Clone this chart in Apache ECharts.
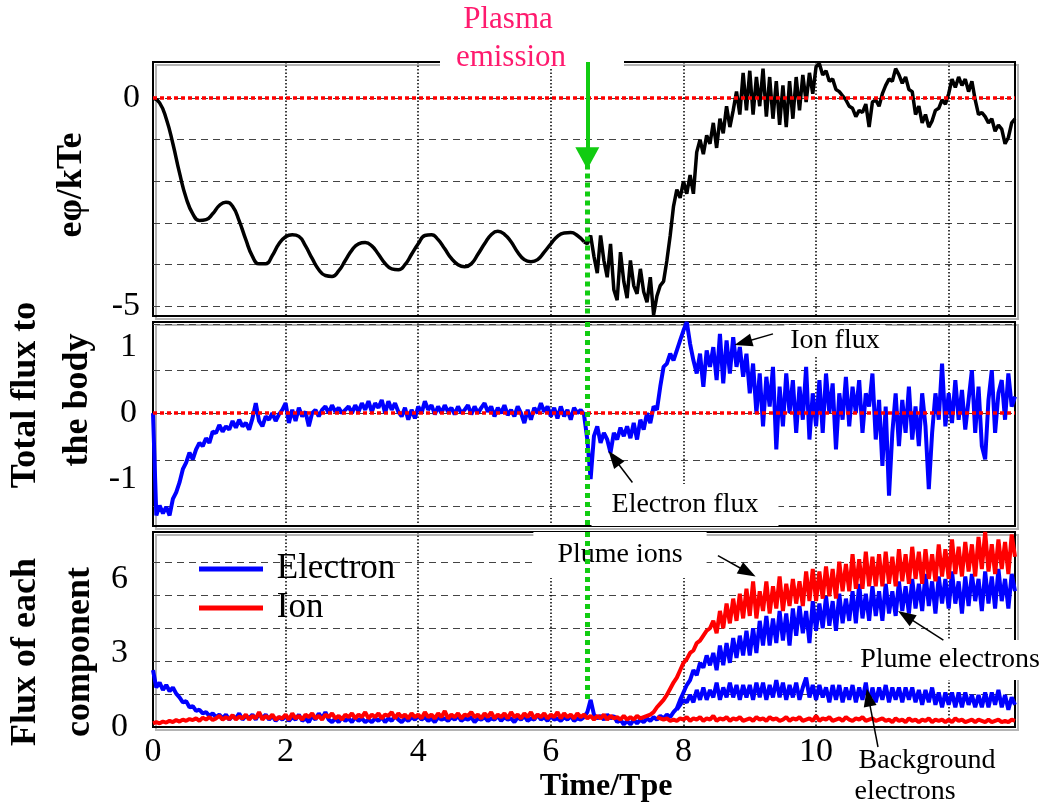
<!DOCTYPE html>
<html>
<head>
<meta charset="utf-8">
<script src="https://cdn.jsdelivr.net/npm/echarts@6/dist/echarts.min.js"></script>
<style>
html, body { margin: 0; padding: 0; background: #fff; }
#main { width: 1055px; height: 808px; }
</style>
</head>
<body>
<div id="main"></div>
<script>
(function () {
    var SERIF = "'Liberation Serif', 'Times New Roman', serif";

    // time axis
    var timeMin = 0, timeMax = 13, timeStep = 2;
    var emissionTime = 6.55;

    // tick / grid values of each panel
    var potGrid = [0, -1, -2, -3, -4, -5];
    var potLabels = [0, -5];
    var fluxGrid = [1.35, 0.65, 0, -0.71, -1.41];
    var fluxLabels = [1, 0, -1];
    var compGrid = [1.34, 2.67, 4.0, 5.34, 6.68];
    var compLabels = [0, 3, 6];

    // potential eφ/kTe, smooth part t = 0 .. 6.5 step 0.1
    var potSmooth = [0, -0.12, -0.5, -1.1, -1.8, -2.4, -2.78, -2.94, -2.92, -2.78,
        -2.58, -2.5, -2.6, -2.95, -3.4, -3.8, -3.98, -3.98, -3.78, -3.5,
        -3.33, -3.28, -3.32, -3.55, -3.85, -4.12, -4.26, -4.28, -4.15, -3.9,
        -3.65, -3.5, -3.47, -3.55, -3.75, -3.97, -4.1, -4.12, -4.0, -3.75,
        -3.5, -3.3, -3.28, -3.4, -3.62, -3.85, -4.0, -4.05, -3.98, -3.75,
        -3.5, -3.28, -3.2, -3.27, -3.45, -3.7, -3.88, -3.93, -3.88, -3.7,
        -3.5, -3.32, -3.24, -3.23, -3.3, -3.45];
    // potential after emission, t = 6.5 .. 13 step 0.05
    var potNoisy = [-3.45, -3.5, -3.3, -3.8, -4.2, -3.3, -3.9, -4.3, -3.5, -4.6,
        -4.85, -3.7, -4.4, -4.8, -3.9, -4.5, -4.7, -4.1, -4.65, -4.9,
        -4.3, -5.2, -4.75, -4.5, -4.4, -3.9, -3.3, -2.6, -2.2, -2.4,
        -2.0, -2.3, -1.85, -2.3, -1.3, -1.0, -1.35, -0.9, -1.1, -0.6,
        -1.2, -0.5, -0.85, -0.2, -0.7, -0.3, 0.15, -0.4, 0.6, -0.3,
        0.65, -0.4, 0.5, -0.2, 0.7, -0.45, 0.5, -0.5, 0.4, -0.65,
        0.3, -0.7, 0.4, -0.5, 0.5, -0.3, 0.55, -0.1, 0.6, 0.1,
        0.75, 0.82, 0.55, 0.65, 0.4, 0.45, 0.2, 0.15, 0.05, -0.05,
        -0.2, -0.25, -0.45, -0.3, -0.35, -0.15, -0.7, -0.1, -0.05, -0.2,
        0.1, 0.3, 0.45, 0.4, 0.7, 0.55, 0.35, 0.5, 0.2, 0.15,
        -0.4, -0.2, -0.6, -0.4, -0.7, -0.55, -0.3, -0.25, -0.05, -0.15,
        0.1, 0.45, 0.25, 0.5, 0.3, 0.45, 0.15, 0.4, -0.05, -0.4,
        -0.35, -0.45, -0.6, -0.5, -0.8, -0.65, -0.75, -1.1, -0.95, -0.6,
        -0.5];

    // total flux to the body, t = 0 .. 13 step 0.05
    var totalFlux = [
        0.0, -1.55, -1.4, -1.52, -1.42, -1.55, -1.3, -1.2, -1.05, -0.85, -0.75, -0.6, -0.7, -0.55, -0.45, -0.5, -0.38, -0.45, -0.28, -0.3,
        -0.18, -0.28, -0.2, -0.25, -0.12, -0.22, -0.1, -0.2, -0.15, -0.25, -0.08, 0.15, -0.12, -0.2, -0.05, -0.1, 0.0, -0.12, -0.02, 0.05,
        0.15, -0.15, 0.05, -0.12, 0.08, -0.05, 0.02, -0.2, 0.0, 0.05, -0.05, 0.05, 0.1, 0.0, 0.12, 0.02, 0.08, 0.0, 0.05, 0.1,
        0.0, 0.12, 0.02, 0.15, 0.05, 0.18, 0.02, 0.15, 0.08, 0.2, 0.0, 0.18, 0.05, 0.15, 0.02, -0.05, 0.08, -0.1, 0.05, -0.08,
        0.1, 0.0, 0.18, 0.05, 0.12, -0.02, 0.1, 0.0, 0.12, 0.02, 0.08, -0.02, 0.1, 0.0, 0.05, 0.12, -0.02, 0.1, 0.0, 0.08,
        0.15, 0.02, 0.1, -0.05, 0.08, 0.0, 0.12, -0.03, 0.05, -0.05, 0.1, 0.0, -0.15, 0.05, -0.1, 0.08, 0.0, 0.15, 0.02, 0.1,
        -0.05, 0.08, -0.08, 0.1, -0.05, 0.05, -0.1, 0.08, 0.0, 0.05, -0.02, -0.4, -1.0, -0.35, -0.2, -0.45, -0.3, -0.4, -0.6, -0.3,
        -0.4, -0.22, -0.35, -0.2, -0.38, -0.15, -0.4, -0.1, -0.25, 0.0, -0.15, 0.1, 0.05, 0.4, 0.7, 0.75, 0.9, 0.8, 0.95, 1.1,
        1.25, 1.38, 1.05, 0.8, 0.6, 0.9, 0.4, 0.95, 0.7, 1.0, 0.5, 1.2, 0.45, 1.1, 0.6, 1.15, 0.7, 1.0, 0.55, 0.9,
        0.3, 0.75, 0.0, 0.6, -0.2, 0.55, 0.1, 0.7, -0.55, 0.4, -0.2, 0.6, 0.0, 0.5, -0.3, 0.4, -0.1, 0.7, -0.4, 0.3,
        -0.2, 0.5, -0.3, 0.6, 0.0, 0.45, -0.55, 0.3, -0.1, 0.55, -0.2, 0.4, 0.0, 0.5, -0.3, 0.3, 0.1, 0.6, -0.4, 0.2,
        -0.8, 0.1, -1.25, -0.3, 0.3, -0.5, 0.2, -0.3, 0.4, -0.4, 0.1, -0.5, 0.3, -0.2, -1.15, -0.3, 0.3, -0.1, 0.75, -0.2,
        0.3, -0.15, 0.5, -0.1, 0.35, -0.25, 0.2, 0.65, -0.3, 0.4, -0.5, -0.7, 0.2, 0.65, -0.3, 0.3, 0.5, -0.1, 0.6, 0.1,
        0.25];

    // electron flux (background then plume electrons), t = 0 .. 13 step 0.05
    var electronMain = [
        2.3, 1.6, 1.8, 1.5, 1.7, 1.45, 1.6, 1.35, 1.2, 1.0, 1.05, 0.8, 0.85, 0.65, 0.7, 0.55, 0.6, 0.45, 0.55, 0.4,
        0.5, 0.35, 0.5, 0.3, 0.45, 0.35, 0.55, 0.3, 0.45, 0.35, 0.5, 0.3, 0.55, 0.35, 0.5, 0.3, 0.45, 0.25, 0.4, 0.3,
        0.45, 0.25, 0.4, 0.3, 0.5, 0.25, 0.35, 0.2, 0.45, 0.3, 0.55, 0.35, 0.6, 0.3, 0.2, 0.35, 0.2, 0.4, 0.25, 0.35,
        0.2, 0.4, 0.25, 0.35, 0.2, 0.3, 0.2, 0.35, 0.25, 0.4, 0.2, 0.35, 0.25, 0.45, 0.3, 0.2, 0.35, 0.25, 0.4, 0.3,
        0.45, 0.3, 0.4, 0.25, 0.35, 0.2, 0.4, 0.3, 0.35, 0.25, 0.4, 0.3, 0.45, 0.25, 0.35, 0.3, 0.4, 0.2, 0.35, 0.3,
        0.4, 0.25, 0.35, 0.3, 0.45, 0.25, 0.4, 0.3, 0.35, 0.2, 0.4, 0.3, 0.45, 0.25, 0.35, 0.3, 0.5, 0.3, 0.4, 0.25,
        0.45, 0.3, 0.35, 0.25, 0.4, 0.3, 0.45, 0.25, 0.35, 0.3, 0.4, 0.6, 1.1, 0.5, 0.35, 0.45, 0.3, 0.5, 0.35, 0.45,
        0.2, 0.3, 0.1, 0.25, 0.1, 0.3, 0.15, 0.3, 0.2, 0.35, 0.25, 0.4, 0.3, 0.45, 0.35, 0.5, 0.4, 0.6, 0.75, 1.1,
        1.4, 1.7, 1.9, 2.3, 2.1, 2.6, 2.4, 2.9, 2.5, 3.0, 2.3, 3.3, 2.5, 3.4, 2.6, 3.6, 2.8, 3.7, 2.9, 3.9,
        2.9, 4.0, 3.0, 4.3, 3.3, 4.5, 3.3, 4.4, 3.4, 4.7, 3.5, 4.6, 3.3, 4.8, 3.7, 4.9, 3.8, 4.7, 3.4, 5.1,
        3.9, 5.0, 4.0, 5.3, 4.1, 5.1, 3.9, 5.4, 4.2, 5.2, 4.3, 5.5, 4.2, 5.8, 4.4, 5.4, 4.3, 5.7, 4.5, 5.5,
        4.3, 5.8, 4.6, 5.5, 4.5, 5.9, 4.7, 5.7, 4.6, 6.0, 4.8, 5.8, 4.7, 6.2, 4.9, 5.9, 4.6, 6.1, 5.0, 6.0,
        4.8, 6.3, 5.0, 5.9, 4.6, 6.1, 4.9, 6.2, 5.1, 6.0, 4.7, 6.3, 5.0, 6.1, 4.8, 6.4, 5.1, 6.0, 4.8, 6.2,
        5.5];

    // ion flux (background then plume ions), t = 0 .. 13 step 0.05
    var ionMain = [
        0.15, 0.2, 0.15, 0.22, 0.18, 0.25, 0.2, 0.28, 0.22, 0.3, 0.25, 0.32, 0.28, 0.35, 0.25, 0.38, 0.3, 0.4, 0.28, 0.35,
        0.45, 0.3, 0.4, 0.32, 0.48, 0.3, 0.42, 0.35, 0.5, 0.3, 0.45, 0.35, 0.6, 0.3, 0.45, 0.35, 0.5, 0.3, 0.4, 0.35,
        0.5, 0.3, 0.55, 0.35, 0.45, 0.3, 0.5, 0.4, 0.55, 0.35, 0.45, 0.3, 0.5, 0.4, 0.55, 0.35, 0.45, 0.3, 0.5, 0.4,
        0.55, 0.35, 0.5, 0.4, 0.6, 0.35, 0.5, 0.4, 0.55, 0.35, 0.5, 0.45, 0.6, 0.35, 0.55, 0.4, 0.5, 0.35, 0.55, 0.4,
        0.5, 0.35, 0.6, 0.4, 0.5, 0.35, 0.55, 0.4, 0.65, 0.35, 0.5, 0.4, 0.55, 0.35, 0.5, 0.45, 0.6, 0.4, 0.5, 0.35,
        0.55, 0.4, 0.6, 0.35, 0.5, 0.4, 0.55, 0.35, 0.6, 0.4, 0.5, 0.35, 0.55, 0.4, 0.6, 0.35, 0.5, 0.4, 0.55, 0.35,
        0.5, 0.4, 0.6, 0.35, 0.55, 0.4, 0.5, 0.35, 0.55, 0.4, 0.5, 0.35, 0.45, 0.3, 0.45, 0.35, 0.5, 0.3, 0.45, 0.35,
        0.4, 0.3, 0.45, 0.3, 0.4, 0.3, 0.45, 0.35, 0.4, 0.45, 0.5, 0.6, 0.8, 0.95, 1.1, 1.3, 1.55, 1.8, 2.0, 2.3,
        2.6, 2.75, 3.0, 3.1, 3.4, 3.5, 3.7, 3.9, 4.0, 4.3, 3.8, 4.7, 4.0, 5.0, 4.2, 5.2, 4.3, 5.4, 4.4, 5.6,
        4.5, 5.9, 4.4, 5.5, 4.7, 5.9, 4.6, 5.7, 4.8, 6.1, 4.7, 5.8, 4.9, 6.0, 5.0, 5.9, 4.9, 6.3, 5.1, 6.4,
        5.1, 6.3, 5.2, 6.5, 5.3, 6.4, 5.2, 6.7, 5.5, 6.6, 5.5, 7.0, 5.6, 6.8, 5.6, 7.1, 5.7, 6.9, 5.7, 7.0,
        5.7, 7.1, 5.8, 6.9, 5.7, 7.2, 5.9, 7.0, 5.8, 7.3, 6.0, 7.1, 5.8, 7.2, 6.0, 7.0, 5.9, 7.4, 6.1, 7.2,
        6.0, 7.6, 6.2, 7.3, 6.1, 7.5, 6.3, 7.4, 6.1, 7.7, 6.4, 7.9, 6.3, 7.4, 6.2, 7.6, 6.4, 7.5, 6.2, 7.8,
        6.9];

    // background electrons, t = 7.9 .. 13 step 0.05
    var electronBg = [0.7, 0.9,
        1.1, 1.0, 1.3, 1.0, 1.5, 1.1, 1.6, 1.1, 1.5, 1.2, 1.8, 1.1, 1.6, 1.2, 1.8, 1.2, 1.7, 1.1, 1.7, 1.2,
        1.7, 1.1, 1.8, 1.2, 1.8, 1.1, 1.7, 1.2, 1.9, 1.2, 1.8, 1.1, 1.7, 1.2, 1.8, 1.1, 1.6, 2.0, 1.2, 1.7,
        1.1, 1.7, 1.2, 1.6, 1.0, 1.7, 1.1, 1.7, 1.0, 1.6, 1.1, 1.7, 1.0, 1.6, 1.1, 1.8, 0.9, 1.6, 1.0, 1.6,
        1.1, 1.7, 1.0, 1.6, 1.1, 1.6, 1.0, 1.6, 1.1, 1.6, 1.0, 1.5, 0.9, 1.5, 1.0, 1.6, 0.9, 1.4, 0.8, 1.4,
        0.9, 1.4, 0.8, 1.4, 0.8, 1.4, 0.9, 1.3, 0.8, 1.3, 0.8, 1.4, 0.8, 1.4, 0.9, 1.5, 0.8, 1.3, 0.7, 1.2,
        0.9];

    // background ions, t = 7.6 .. 13 step 0.05
    var ionBg = [0.4, 0.35, 0.3, 0.35, 0.25, 0.3, 0.25, 0.35,
        0.3, 0.4, 0.25, 0.35, 0.3, 0.4, 0.25, 0.35, 0.3, 0.45, 0.25, 0.35, 0.3, 0.4, 0.25, 0.35, 0.3, 0.4, 0.25, 0.3,
        0.35, 0.25, 0.4, 0.3, 0.35, 0.25, 0.4, 0.3, 0.35, 0.25, 0.3, 0.4, 0.25, 0.35, 0.3, 0.4, 0.25, 0.3, 0.35, 0.25,
        0.45, 0.25, 0.35, 0.3, 0.4, 0.25, 0.3, 0.35, 0.25, 0.4, 0.3, 0.25, 0.35, 0.3, 0.4, 0.25, 0.3, 0.35, 0.25, 0.3,
        0.35, 0.25, 0.3, 0.2, 0.35, 0.25, 0.3, 0.2, 0.35, 0.25, 0.3, 0.2, 0.3, 0.25, 0.35, 0.2, 0.3, 0.25, 0.3, 0.2,
        0.3, 0.2, 0.35, 0.25, 0.3, 0.2, 0.25, 0.3, 0.2, 0.3, 0.25, 0.2, 0.3, 0.2, 0.25, 0.3, 0.2, 0.25, 0.2, 0.3, 0.25];

    function pairs(t0, dt, vals) {
        return vals.map(function (v, i) {
            return [Math.round((t0 + i * dt) * 100) / 100, v];
        });
    }

    var myChart = echarts.init(document.getElementById('main'));

    var gridBase = {
        left: 153, right: 40, show: true, containLabel: false, outerBoundsMode: 'none',
        borderColor: '#000', borderWidth: 2,
        shadowColor: '#b4b4b4', shadowOffsetX: 3, shadowOffsetY: 3
    };
    var hDash = { color: '#444', width: 1, type: [7, 5] };
    var vDot = { color: '#000', width: 1.5, type: [1.5, 2] };
    var redZero = { color: '#ff0000', width: 3.5, type: [4, 3] };
    var green = '#11cc11';
    var tickFont = { fontFamily: SERIF, fontSize: 34, color: '#000' };

    function xAxisFor(idx, showLabel) {
        return {
            gridIndex: idx, type: 'value', min: timeMin, max: timeMax, interval: timeStep,
            axisLine: { show: false }, axisTick: { show: false },
            splitLine: { show: true, lineStyle: vDot },
            axisLabel: {
                show: showLabel, margin: 8, fontFamily: SERIF, fontSize: 34, color: '#000',
                formatter: function (v) { return v <= 10 ? String(v) : ''; }
            },
            name: showLabel ? 'Time/Tpe' : '',
            nameLocation: 'middle', nameGap: 44, nameMoveOverlap: false,
            nameTextStyle: { fontFamily: SERIF, fontWeight: 'bold', fontSize: 32, color: '#000', padding: [0, 0, 0, 44] }
        };
    }

    function yAxisFor(idx, min, max, grid, labels, margin) {
        return {
            gridIndex: idx, type: 'value', min: min, max: max,
            axisLine: { show: false },
            axisTick: { show: false, customValues: grid },
            splitLine: { show: true, lineStyle: hDash },
            axisLabel: Object.assign({ customValues: labels, margin: margin }, tickFont)
        };
    }

    function line(name, xi, data, color, width, extra) {
        return Object.assign({
            name: name, type: 'line', xAxisIndex: xi, yAxisIndex: xi, data: data,
            showSymbol: false, symbol: 'none', z: 2,
            lineStyle: { color: color, width: width }, itemStyle: { color: color },
            emphasis: { disabled: true }, animation: false
        }, extra || {});
    }

    function seg(a, b, style, endSymbol, size) {
        return [
            Object.assign({ symbol: 'none', lineStyle: style }, a),
            Object.assign({ symbol: endSymbol || 'none', symbolSize: size || 10 }, b)
        ];
    }
    var arrowStyle = { color: '#000', width: 1.5, type: 'solid' };
    var arrowHead = [13, 18];
    var greenDot = { color: green, width: 5, type: [5, 4] };

    function annot(xi, lines) {
        return {
            name: 'annot' + xi, type: 'line', xAxisIndex: xi, yAxisIndex: xi, data: [], z: 10,
            silent: true, animation: false,
            markLine: { silent: true, animation: false, symbol: ['none', 'none'], label: { show: false }, data: lines }
        };
    }

    // rotated y-axis titles
    function yTitle(text, x, y) {
        return {
            type: 'text', z: 6, x: x, y: y, rotation: Math.PI / 2,
            style: { text: text, fontFamily: SERIF, fontWeight: 'bold', fontSize: 36, fill: '#000', align: 'center', verticalAlign: 'middle' }
        };
    }
    function note(text, x, y, pad, extra) {
        return {
            type: 'text', z: 5, x: x, y: y,
            style: Object.assign({ text: text, fontFamily: SERIF, fontSize: 28, fill: '#000', align: 'center', verticalAlign: 'middle',
                backgroundColor: pad ? '#fff' : 'transparent', padding: pad || 0 }, extra || {})
        };
    }

    var option = {
        animation: false,
        backgroundColor: '#fff',
        grid: [
            Object.assign({ top: 62, height: 254 }, gridBase),
            Object.assign({ top: 322, height: 204 }, gridBase),
            Object.assign({ top: 532, height: 195 }, gridBase)
        ],
        xAxis: [xAxisFor(0, false), xAxisFor(1, false), xAxisFor(2, true)],
        yAxis: [
            yAxisFor(0, -5.23, 0.86, potGrid, potLabels, 13),
            yAxisFor(1, -1.71, 1.38, fluxGrid, fluxLabels, 16),
            yAxisFor(2, 0, 7.9, compGrid, compLabels, 25)
        ],
        legend: {
            data: ['Electron', 'Ion'], orient: 'vertical', left: 194, top: 546,
            icon: 'rect', itemWidth: 64, itemHeight: 5, itemGap: 3,
            formatter: ' {name}', selectedMode: false,
            textStyle: { fontFamily: SERIF, fontSize: 35, color: '#000', lineHeight: 36 }
        },
        series: [
            line('pot', 0, pairs(0, 0.1, potSmooth), '#000', 3.5, { smooth: true }),
            line('pot2', 0, pairs(6.5, 0.05, potNoisy), '#000', 3.5),
            line('flux', 1, pairs(0, 0.05, totalFlux), '#0000ff', 4),
            line('Electron', 2, pairs(0, 0.05, electronMain), '#0000ff', 4),
            line('Ion', 2, pairs(0, 0.05, ionMain), '#ff0000', 4),
            line('Electron', 2, pairs(7.9, 0.05, electronBg), '#0000ff', 4),
            line('Ion', 2, pairs(7.6, 0.05, ionBg), '#ff0000', 4),
            annot(0, [
                { yAxis: 0, symbol: 'none', lineStyle: redZero },
                seg({ coord: [emissionTime, 0.86] }, { coord: [emissionTime, -1.45] },
                    { color: green, width: 4, type: 'solid' }, 'triangle', [24, 22]),
                seg({ coord: [emissionTime, -1.6] }, { coord: [emissionTime, -5.23] }, greenDot)
            ]),
            annot(1, [
                { yAxis: 0, symbol: 'none', lineStyle: redZero },
                seg({ coord: [emissionTime, 1.38] }, { coord: [emissionTime, -1.71] }, greenDot),
                seg({ coord: [9.35, 1.2] }, { coord: [8.9, 1.07] }, arrowStyle, 'triangle', arrowHead),
                seg({ coord: [7.23, -1.05] }, { coord: [6.95, -0.68] }, arrowStyle, 'triangle', arrowHead)
            ]),
            annot(2, [
                seg({ coord: [emissionTime, 7.9] }, { coord: [emissionTime, 1.0] }, greenDot),
                seg({ coord: [8.52, 6.94] }, { coord: [8.97, 6.27] }, arrowStyle, 'triangle', arrowHead),
                seg({ coord: [11.92, 3.52] }, { coord: [11.35, 4.5] }, arrowStyle, 'triangle', arrowHead),
                seg({ x: 878, y: 747 }, { coord: [10.79, 1.2] }, arrowStyle, 'triangle', arrowHead)
            ])
        ],
        graphic: {
            elements: [
                { type: 'rect', z: 5, shape: { x: 440, y: 54, width: 184, height: 14 }, style: { fill: '#fff' } },
                note('Plasma', 508, 20, 0, { fontSize: 31, fill: '#ff1a6e' }),
                note('emission', 511, 58, 0, { fontSize: 31, fill: '#ff1a6e' }),
                yTitle('eφ/kTe', 72, 185),
                yTitle('Total flux to', 26, 395),
                yTitle('the body', 78, 400),
                yTitle('Flux of each', 26, 652),
                yTitle('component', 80, 652),
                note('Ion flux', 835, 341, [2, 6]),
                note('Electron flux', 685, 505, [4, 20, 10, 20]),
                note('Plume ions', 620, 555, [10, 24, 8, 24]),
                note('Plume electrons', 950, 660, [6, 8]),
                note('Background', 927, 761),
                note('electrons', 905, 792)
            ]
        }
    };

    myChart.setOption(option);
})();
</script>
</body>
</html>
